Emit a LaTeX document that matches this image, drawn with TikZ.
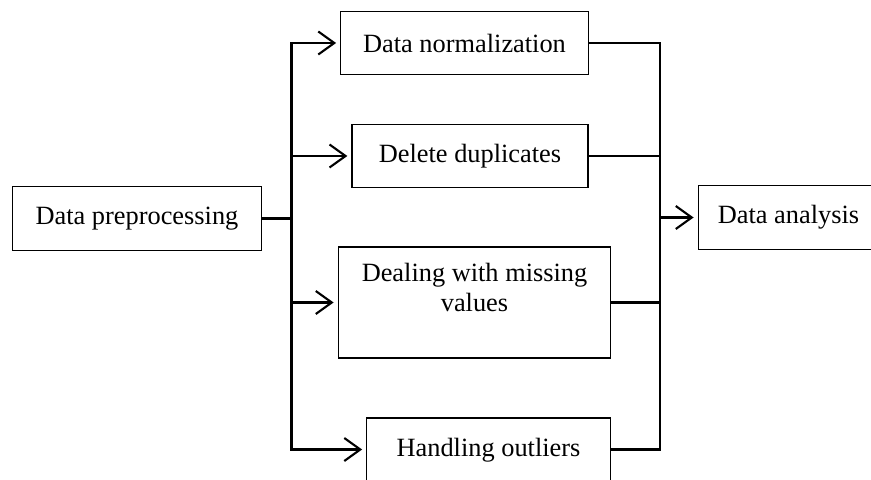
\documentclass[tikz,border=0pt]{standalone}
\usepackage{fontspec}
\setmainfont{Liberation Serif}
\usetikzlibrary{arrows.meta}

\begin{document}
\begin{tikzpicture}

\def\busL{5.83}
\def\busR{13.2}

\tikzstyle{stage}=[rectangle,draw,line width=0.75pt,inner sep=0pt,font=\fontsize{15}{17}\selectfont,align=center]
\tikzstyle{link}=[line width=1.2pt,line cap=rect]
\tikzstyle{feed}=[line width=1.2pt,-{Straight Barb[length=0.32cm,width=0.46cm]},shorten >=0.08cm]

\useasboundingbox (0,0) rectangle (17.42,9.58);

%Source and sink
\node[stage, minimum width=4.97cm, minimum height=1.27cm] (preproc)  at (2.74,5.21)  {Data preprocessing};
\node[stage, minimum width=3.61cm, minimum height=1.27cm] (analysis) at (15.77,5.23) {Data analysis};

%Branch blocks
\node[stage, minimum width=4.95cm, minimum height=1.25cm] (normal)   at (9.29,8.72) {Data normalization};
\node[stage, minimum width=4.72cm, minimum height=1.27cm] (dupes)    at (9.40,6.46) {Delete duplicates};
\node[stage, minimum width=5.45cm, minimum height=2.22cm] (missing)  at (9.49,3.53) {Dealing with missing\\values\\~};
\node[stage, minimum width=4.87cm, minimum height=1.30cm] (outliers) at (9.77,0.57) {Handling outliers};

%Bus ends
\coordinate (splitTop) at (\busL,8.72);
\coordinate (splitBot) at (\busL,0.59);
\coordinate (joinTop)  at (\busR,8.72);
\coordinate (joinBot)  at (\busR,0.59);

% connections
\draw[link] (splitTop) -- (splitBot);
\draw[link] (joinTop) -- (joinBot);
\draw[link] (preproc) -- (preproc -| splitTop);

\draw[feed] (normal -| splitTop)   -- (normal);
\draw[feed] (dupes -| splitTop)    -- (dupes);
\draw[feed] (missing -| splitTop)  -- (missing);
\draw[feed] (splitBot) -- (splitBot -| outliers.west);

\draw[link] (normal)   -- (normal -| joinTop);
\draw[link] (dupes)    -- (dupes -| joinTop);
\draw[link] (missing)  -- (missing -| joinTop);
\draw[link] (splitBot -| outliers.east) -- (joinBot);

\draw[feed] (analysis -| joinTop) -- (analysis);

\end{tikzpicture}
\end{document}
